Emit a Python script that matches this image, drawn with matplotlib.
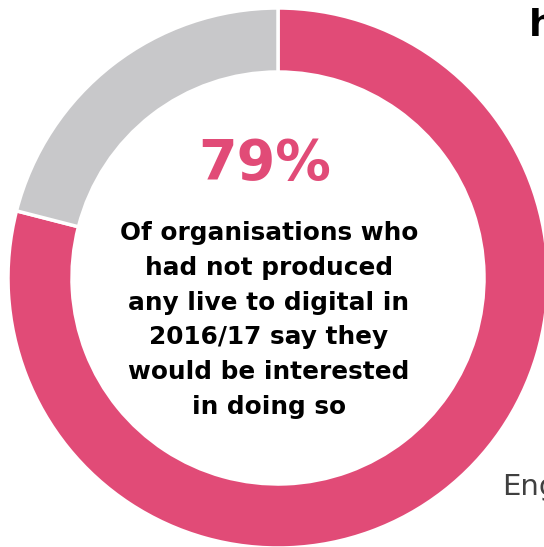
import matplotlib
matplotlib.use("Agg")
import matplotlib.pyplot as plt

# share of organisations interested vs not
labels = ["Interested", "Not interested"]
shares = [79, 21]
colours = ["#E14B77", "#C8C8CA"]

headline = "79%"
caption = ("Of organisations who\nhad not produced\nany live to digital in\n"
           "2016/17 say they\nwould be interested\nin doing so")

W, H = 544, 547
fig = plt.figure(figsize=(W / 100, H / 100), dpi=100)
ax = fig.add_axes([0, 0, 1, 1])

cx, cy, r = 278, H - 278, 270
ax.pie(shares, colors=colours, startangle=90, counterclock=False,
       center=(cx, cy), radius=r, frame=True,
       wedgeprops=dict(width=64, edgecolor="white", linewidth=2.5))
ax.set_xlim(0, W)
ax.set_ylim(0, H)
ax.set_aspect("equal")
ax.axis("off")

ax.text(265, H - 164, headline, color=colours[0], fontsize=40,
        fontweight="bold", ha="center", va="center")
ax.text(269, H - 320, caption, color="black", fontsize=17.8,
        fontweight="bold", ha="center", va="center", linespacing=1.56)

# fragments of neighbouring panel text
ax.text(529, H - 36, "h", color="black", fontsize=27, fontweight="bold",
        ha="left", va="baseline")
ax.text(502, H - 495, "Eng", color="#404040", fontsize=21,
        ha="left", va="baseline")

fig.savefig("out.png", dpi=100)
